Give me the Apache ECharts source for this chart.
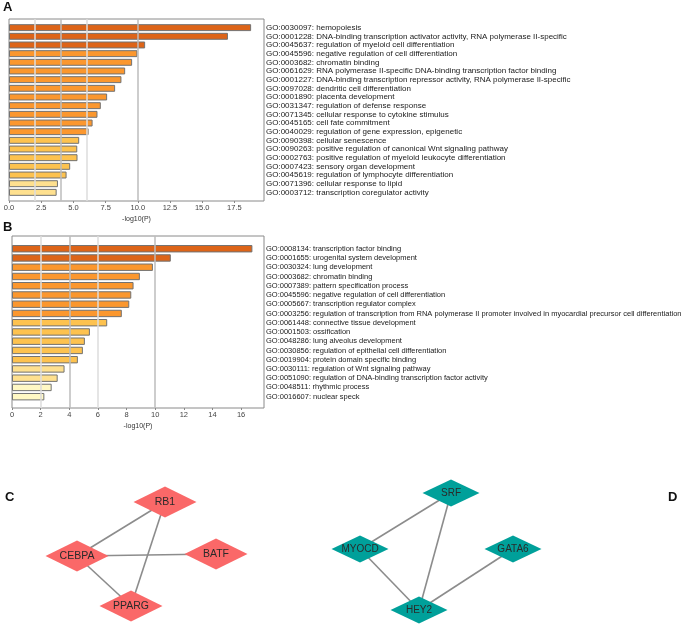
<!DOCTYPE html>
<html><head><meta charset="utf-8">
<script src="https://cdn.jsdelivr.net/npm/echarts@6.0.0/dist/echarts.min.js"></script>
<style>html,body{margin:0;padding:0;background:#fff}#c{width:685px;height:626px}</style>
</head><body><div id="c"></div>
<script>
// ---------- Data ----------
const aTerms = [
 "GO:0030097: hemopoiesis",
 "GO:0001228: DNA-binding transcription activator activity, RNA polymerase II-specific",
 "GO:0045637: regulation of myeloid cell differentiation",
 "GO:0045596: negative regulation of cell differentiation",
 "GO:0003682: chromatin binding",
 "GO:0061629: RNA polymerase II-specific DNA-binding transcription factor binding",
 "GO:0001227: DNA-binding transcription repressor activity, RNA polymerase II-specific",
 "GO:0097028: dendritic cell differentiation",
 "GO:0001890: placenta development",
 "GO:0031347: regulation of defense response",
 "GO:0071345: cellular response to cytokine stimulus",
 "GO:0045165: cell fate commitment",
 "GO:0040029: regulation of gene expression, epigenetic",
 "GO:0090398: cellular senescence",
 "GO:0090263: positive regulation of canonical Wnt signaling pathway",
 "GO:0002763: positive regulation of myeloid leukocyte differentiation",
 "GO:0007423: sensory organ development",
 "GO:0045619: regulation of lymphocyte differentiation",
 "GO:0071396: cellular response to lipid",
 "GO:0003712: transcription coregulator activity"
];
const aValues = [18.8, 17.0, 10.57, 9.97, 9.56, 9.02, 8.73, 8.24, 7.62, 7.13, 6.87, 6.49, 6.18, 5.45, 5.30, 5.32, 4.75, 4.47, 3.80, 3.70];
const aTier   = [0,0,0,1,1,1,1,1,1,1,1,1,1,2,2,2,2,2,3,3];

const bTerms = [
 "GO:0008134: transcription factor binding",
 "GO:0001655: urogenital system development",
 "GO:0030324: lung development",
 "GO:0003682: chromatin binding",
 "GO:0007389: pattern specification process",
 "GO:0045596: negative regulation of cell differentiation",
 "GO:0005667: transcription regulator complex",
 "GO:0003256: regulation of transcription from RNA polymerase II promoter involved in myocardial precursor cell differentiation",
 "GO:0061448: connective tissue development",
 "GO:0001503: ossification",
 "GO:0048286: lung alveolus development",
 "GO:0030856: regulation of epithelial cell differentiation",
 "GO:0019904: protein domain specific binding",
 "GO:0030111: regulation of Wnt signaling pathway",
 "GO:0051090: regulation of DNA-binding transcription factor activity",
 "GO:0048511: rhythmic process",
 "GO:0016607: nuclear speck"
];
const bValues = [16.79, 11.09, 9.84, 8.93, 8.49, 8.33, 8.19, 7.67, 6.65, 5.44, 5.09, 4.95, 4.60, 3.67, 3.19, 2.77, 2.26];
const bTier   = [0,0,1,1,1,1,1,1,2,2,2,2,2,3,3,4,4];

const refLines = [2, 4, 6, 10];   // -log10(P) reference lines

const cNodes = [
 {name: "RB1",   x: 165, y: 502},
 {name: "CEBPA", x: 77,  y: 556},
 {name: "BATF",  x: 216, y: 554},
 {name: "PPARG", x: 131, y: 606}
];
const cEdges = [["RB1","CEBPA"],["RB1","PPARG"],["CEBPA","BATF"],["CEBPA","PPARG"]];

const dNodes = [
 {name: "SRF",   x: 451, y: 493},
 {name: "MYOCD", x: 360, y: 549},
 {name: "GATA6", x: 513, y: 549},
 {name: "HEY2",  x: 419, y: 610}
];
const dEdges = [["SRF","MYOCD"],["SRF","HEY2"],["MYOCD","HEY2"],["GATA6","HEY2"]];

// ---------- Styles ----------
const tierColors = ["#DD6418", "#FB972E", "#FDC24F", "#FEE08F", "#FFF8C4"];
const refLineColors = ["#dcdcdc", "#bdbdbd", "#dcdcdc", "#bdbdbd"];
const FONT = "Liberation Sans, Arial, sans-serif";

const chart = echarts.init(document.getElementById('c'), null, {renderer: 'canvas'});

function frameX(gi, max, interval, fmt) {
  return {type:'value', gridIndex: gi, min:0, max:max, interval:interval,
    axisLine:{show:false}, splitLine:{show:false},
    axisTick:{show:true, length:2, lineStyle:{color:'#888'}},
    axisLabel:{fontSize:7.5, color:'#444', fontFamily:FONT, margin:3, formatter: fmt, showMaxLabel:false},
    name:'-log10(P)', nameLocation:'middle', nameGap:15,
    nameTextStyle:{fontSize:7, color:'#333', fontFamily:FONT}};
}
function barX(gi, max) {
  return {type:'value', gridIndex: gi, min:0, max:max, show:false};
}
function termY(gi, terms, fs) {
  return {type:'category', gridIndex: gi, data: terms, inverse:true, position:'right',
    axisLine:{show:false}, axisTick:{show:false},
    axisLabel:{interval:0, fontSize:fs, color:'#1a1a1a', fontFamily:FONT, margin:2, align:'left'}};
}
function barSeries(xi, values, tiers) {
  return {type:'bar', xAxisIndex: xi, yAxisIndex: xi, barCategoryGap:'20%',
    data: values.map((v,i)=>({value:v, itemStyle:{color: tierColors[tiers[i]]}})),
    itemStyle:{borderColor:'#727272', borderWidth:1}, silent:true};
}
function refSeries(xi) {
  return {type:'line', xAxisIndex: xi, yAxisIndex: xi, data: [], silent:true,
    markLine:{silent:true, symbol:['none','none'], label:{show:false}, animation:false,
      data: refLines.map((v,i)=>({xAxis:v, lineStyle:{color: refLineColors[i], width:1.5, type:'solid'}}))}};
}
function graphSeries(nodes, edges, color, sz, fs, box) {
  return {type:'graph', layout:'none', roam:false, silent:true,
    left: box[0], top: box[1], width: box[2], height: box[3],
    symbol:'diamond', symbolSize: sz,
    itemStyle:{color: color},
    label:{show:true, position:'inside', fontSize: fs, color:'#2a2a2a', fontFamily:FONT},
    lineStyle:{color:'#8c8c8c', width:1.6, opacity:1, curveness:0},
    data: nodes.map(n=>({name:n.name, x:n.x, y:n.y})),
    links: edges.map(e=>({source:e[0], target:e[1]}))};
}
const bbox = ns => { const xs=ns.map(n=>n.x), ys=ns.map(n=>n.y);
  const x0=Math.min(...xs), y0=Math.min(...ys);
  return [x0, y0, Math.max(...xs)-x0, Math.max(...ys)-y0]; };

chart.setOption({
  animation:false,
  backgroundColor:'#fff',
  title:[
    {text:'A', left:3, top:1, padding:0, textStyle:{fontSize:13, fontWeight:'bold', color:'#111', fontFamily:FONT}},
    {text:'B', left:3, top:221, padding:0, textStyle:{fontSize:13, fontWeight:'bold', color:'#111', fontFamily:FONT}},
    {text:'C', left:5, top:491, padding:0, textStyle:{fontSize:13, fontWeight:'bold', color:'#111', fontFamily:FONT}},
    {text:'D', left:668, top:491, padding:0, textStyle:{fontSize:13, fontWeight:'bold', color:'#111', fontFamily:FONT}}
  ],
  grid:[
    {left:9, width:255, top:19, height:182, show:true, borderColor:'#8a8a8a', borderWidth:1, backgroundColor:'transparent'},
    {left:9, width:255, top:23.3, height:173.4},
    {left:12, width:252, top:236, height:172, show:true, borderColor:'#8a8a8a', borderWidth:1, backgroundColor:'transparent'},
    {left:12, width:252, top:244.1, height:157.2}
  ],
  xAxis:[
    frameX(0, 19.8, 2.5, v=>v.toFixed(1)),
    barX(1, 19.8),
    frameX(2, 17.6, 2, v=>String(v)),
    barX(3, 17.6)
  ],
  yAxis:[
    {type:'value', gridIndex:0, min:0, max:1, show:false},
    termY(1, aTerms, 8),
    {type:'value', gridIndex:2, min:0, max:1, show:false},
    termY(3, bTerms, 7.5)
  ],
  series:[
    refSeries(0),
    barSeries(1, aValues, aTier),
    refSeries(2),
    barSeries(3, bValues, bTier),
    graphSeries(cNodes, cEdges, '#FA6868', [63,31], 10.5, bbox(cNodes)),
    graphSeries(dNodes, dEdges, '#00A09A', [57,27], 10, bbox(dNodes))
  ]
});
</script></body></html>
